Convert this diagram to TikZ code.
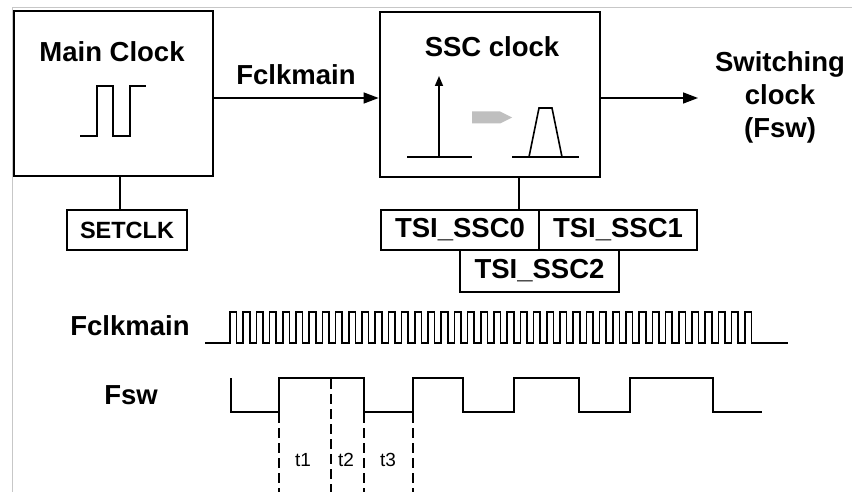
\documentclass[tikz,border=0pt]{standalone}
\usepackage{fontspec}
\setmainfont{Liberation Sans}
\usetikzlibrary{arrows.meta,calc}
\begin{document}
\begin{tikzpicture}[x=1pt,y=-1pt,
  bigbox/.style={draw, line width=2.8pt, inner sep=0pt},
  regbox/.style={draw, line width=1.4pt, inner sep=0pt, font=\fontsize{27.5}{30}\selectfont\bfseries},
  wire/.style={line width=1.6pt},
  sig/.style={line width=1.6pt, line join=miter},
  bigarrow/.style={wire, -{Triangle[length=15pt,width=11pt]}},
  lbl/.style={inner sep=0pt, font=\fontsize{27.5}{33}\selectfont\bfseries},
  tlbl/.style={inner sep=0pt, font=\fontsize{19}{21}\selectfont},
  guide/.style={line width=1.4pt, dash pattern=on 10pt off 5pt},
  frame/.style={draw=black!22, line width=1pt}
]
\useasboundingbox (0,0) rectangle (852,492);
% faint frame
\draw[frame] (852,8) -- (12,8) -- (12,492);

% ---- blocks ----
\node[bigbox, minimum width=199pt, minimum height=165pt] (main) at (113.5,93.5) {};
\node[lbl] (maintxt) at (112,52) {Main Clock};
\draw[sig] (80,136) -- (97,136) -- (97,86) -- (113,86) -- (113,136) -- (130,136) -- (130,86) -- (146,86);

\node[bigbox, minimum width=220pt, minimum height=165pt] (ssc) at (490,94.5) {};
\node[lbl] (ssctxt) at (492,47) {SSC clock};
% spectrum: single line
\draw[wire] (407,157) -- (472,157);
\draw[wire, -{Triangle[length=10pt,width=8pt]}] (439,157) -- (439,76);
% gray arrow
\fill[black!25] (472,111.5) -- (500,111.5) -- (512,117.5) -- (500,123.5) -- (472,123.5) -- cycle;
% spread spectrum
\draw[wire] (512,157) -- (579,157);
\draw[wire, line join=miter] (529,157) -- (539,108) -- (552,108) -- (562,157);

\node[regbox, minimum width=120pt, minimum height=40pt, font=\fontsize{23.5}{26}\selectfont\bfseries] (setclk) at (127,230) {SETCLK};
\node[regbox, minimum width=158pt, minimum height=40pt] (tsi0) at (460,230) {TSI\_SSC0};
\node[regbox, minimum width=158pt, minimum height=40pt] (tsi1) at (618,230) {TSI\_SSC1};
\node[regbox, minimum width=159pt, minimum height=42pt] (tsi2) at (539.5,271) {TSI\_SSC2};

% ---- connectors ----
\coordinate (cx1) at (120,0);
\coordinate (cx2) at (519,0);
\coordinate (ly) at (0,98);
\coordinate (outend) at (698,98);
\draw[wire] (main.south -| cx1) -- (setclk.north -| cx1);
\draw[wire] (ssc.south -| cx2) -- (tsi0.north -| cx2);
\draw[bigarrow] (main.east |- ly) -- (ssc.west |- ly);
\draw[bigarrow] (ssc.east |- ly) -- (outend);

\node[lbl] (fclklbl) at (296,75) {Fclkmain};
\node[lbl, align=center] (swlbl) at (780,97) {Switching\\clock\\(Fsw)};

% ---- timing diagram ----
\node[lbl] (fclkname) at (130,326) {Fclkmain};
\node[lbl] (fswname) at (131,395) {Fsw};

\draw[sig] (205,343) -- (230,343)
  \foreach \i in {0,...,39} { -- ++(0,-31) -- ++(6.6,0) -- ++(0,31) -- ++(6.6,0) }
  -- (788,343);

\draw[sig] (231,378) -- (231,412) -- (279,412) -- (279,378) -- (364,378) -- (364,412)
  -- (413,412) -- (413,378) -- (463,378) -- (463,412) -- (514,412) -- (514,378)
  -- (579,378) -- (579,412) -- (630,412) -- (630,378) -- (713,378) -- (713,412) -- (762,412);

\draw[guide] (279,413) -- (279,492);
\draw[guide] (331,379) -- (331,492);
\draw[guide] (364,413) -- (364,492);
\draw[guide] (413,413) -- (413,492);

\node[tlbl] (t1) at (303,460) {t1};
\node[tlbl] (t2) at (346,460) {t2};
\node[tlbl] (t3) at (388,460) {t3};
\end{tikzpicture}
\end{document}
